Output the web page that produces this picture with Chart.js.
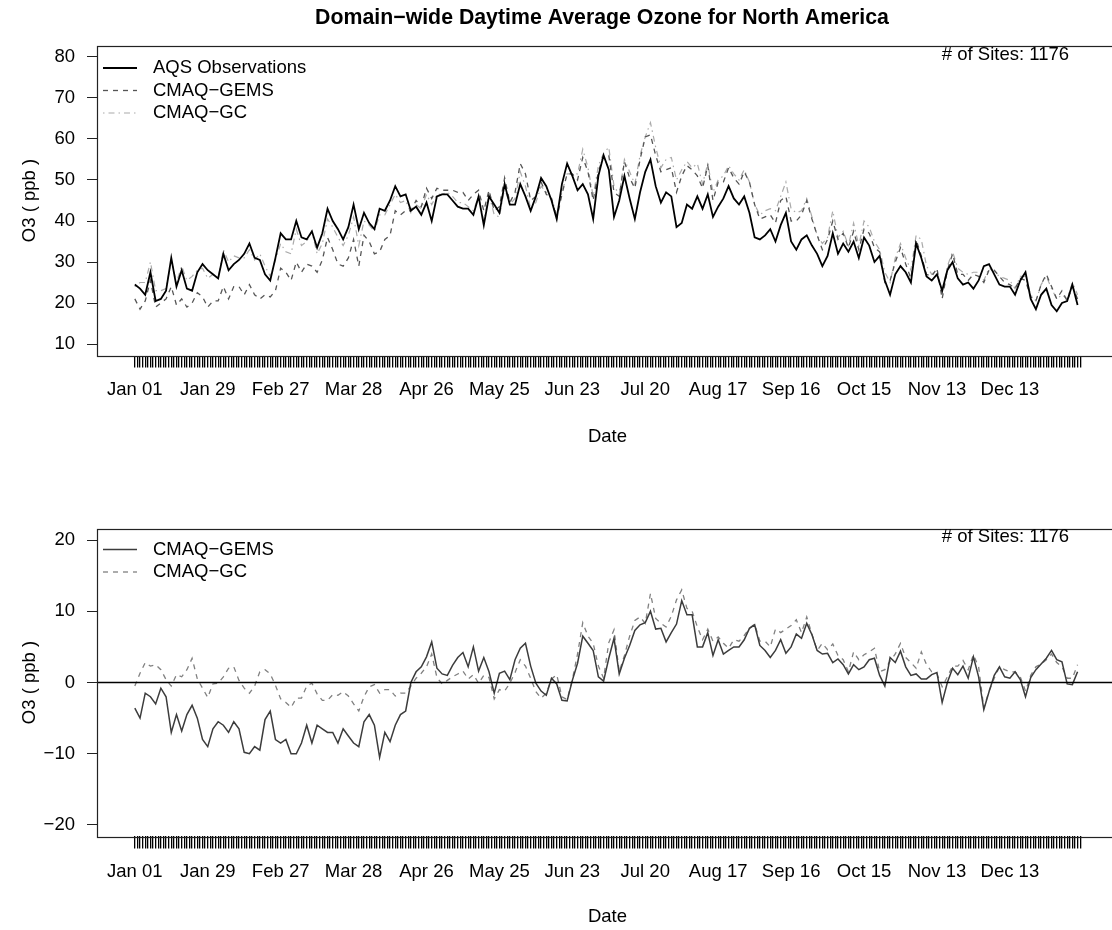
<!DOCTYPE html>
<html>
<head>
<meta charset="utf-8">
<title>Domain-wide Daytime Average Ozone</title>
<script src="https://cdn.jsdelivr.net/npm/chart.js@4.4.0/dist/chart.umd.min.js"></script>
<style>
  html, body { margin: 0; padding: 0; background: #fff; overflow: hidden; }
  #wrap { position: relative; width: 1112px; height: 930px; overflow: hidden; }
  canvas { position: absolute; left: 0; }
  #topChart { top: 0; }
  #biasChart { top: 465px; }
</style>
</head>
<body>
<div id="wrap">
  <canvas id="topChart" width="1130" height="465"></canvas>
  <canvas id="biasChart" width="1130" height="465"></canvas>
</div>
<script>
// Fuente parecida a Helvetica de R
const FONT = '"Liberation Sans", Arial, Helvetica, sans-serif';

// Etiquetas del eje X (una cada 28 días) y ticks del eje Y
const tickLabels = ['Jan 01', 'Jan 29', 'Feb 27', 'Mar 28', 'Apr 26', 'May 25', 'Jun 23',
                    'Jul 20', 'Aug 17', 'Sep 16', 'Oct 15', 'Nov 13', 'Dec 13'];
const tickEvery = 28;
const lastDay = 363;
const dayStep = 2; // un valor cada 2 días
const yTicksTop = [10, 20, 30, 40, 50, 60, 70, 80];
const yTicksBias = [-20, -10, 0, 10, 20];

const seriesTop = ['AQS Observations', 'CMAQ−GEMS', 'CMAQ−GC'];
const seriesBias = ['CMAQ−GEMS', 'CMAQ−GC'];

// O3 observado (ppb)
const aqsObs = [
  24.5, 23.5, 22, 27.5, 20.5, 21, 23, 31, 24, 28,
  23.5, 23, 27.5, 29.5, 28, 27, 26, 32, 28, 29.5,
  30.5, 32, 34.5, 31, 30.5, 27, 25.5, 31, 37, 35.5,
  35.5, 40, 36, 35.5, 37.5, 33.5, 37, 43, 40, 38,
  35.5, 38.5, 44, 38, 42, 39.5, 38, 43, 42.5, 45,
  48.5, 46, 46.5, 42.5, 43.5, 41.5, 44.5, 40, 46, 46.5,
  46.5, 45, 43.5, 43, 43, 41.5, 46, 39, 46, 44,
  42, 49, 44, 44, 49, 46, 42.5, 46, 50.5, 48.5,
  45, 40.5, 49, 54, 51, 47.5, 49, 46.5, 40.5, 51,
  56, 52.5, 41, 45, 51, 45.5, 40.5, 47, 52, 55,
  48.5, 44.5, 47, 46, 38.5, 39.5, 44, 43, 46, 43,
  46.5, 41, 43.5, 45.5, 48.5, 45.5, 44, 46, 42, 36,
  35.5, 36.5, 38, 35, 39, 42, 35, 33, 35.5, 36.5,
  34, 32, 29, 31.5, 37, 32, 34.5, 32.5, 35, 31,
  36, 34, 30, 31.5, 25.5, 22, 27, 29, 27.5, 25,
  34.5, 31, 26.5, 25.5, 27, 23, 28, 30, 26, 24.5,
  25, 23.5, 25.5, 29, 29.5, 27, 24.5, 24, 24, 22,
  25.5, 27.5, 21, 18.5, 22, 23.5, 19.5, 18, 20, 20.5,
  24.5, 19.5
];

// CMAQ-GEMS (ppb)
const gemsTop = [
  21, 18.5, 20.5, 25.5, 19, 20, 21, 24, 19.5, 21,
  19, 20, 22.5, 21.5, 19, 20.5, 20.5, 24, 21, 24,
  24, 22, 24.5, 22, 21, 22, 21.5, 23, 28.5, 27.5,
  25.5, 30, 27.5, 29.5, 29, 27.5, 30.5, 36, 33, 29.5,
  29, 31, 35.5, 29, 36.5, 35, 32, 32.5, 35.5, 36.5,
  42.5, 41.5, 42.5, 42.5, 45, 43.5, 48, 45.5, 48, 47.5,
  47.5, 47.5, 47, 47, 45, 46.5, 47.5, 42.5, 47.5, 42.5,
  43.5, 50.5, 44.5, 47, 54, 51.5, 45, 46, 49.5, 46.5,
  45.5, 40.5, 46.5, 51.5, 51.5, 50, 55.5, 52, 45, 52,
  56, 56, 47, 46, 54.5, 50.5, 48, 55, 60.5, 61,
  56, 52, 52.5, 53, 47, 51, 53.5, 52.5, 51, 48,
  53.5, 45, 49.5, 49.5, 53, 50.5, 49, 52, 49.5, 44,
  40.5, 41, 41.5, 39.5, 45, 46, 40, 40, 41.5, 45,
  40.5, 36.5, 33, 35.5, 40, 35.5, 37, 33.5, 37.5, 33,
  38, 37, 33.5, 32.5, 25, 25.5, 30, 33.5, 29.5, 26,
  35.5, 31.5, 27, 26.5, 28.5, 21, 28, 32, 27, 27,
  25.5, 27, 26.5, 25, 28, 28, 26.5, 25, 24.5, 23.5,
  26, 25.5, 21.5, 20.5, 24.5, 27, 24, 21, 23, 20.5,
  24, 21
];

// CMAQ-GC (ppb)
const gcTop = [
  24, 25, 25, 30, 23, 23, 23.5, 30.5, 25, 29,
  25.5, 26.5, 28, 28.5, 26, 27, 26, 33, 30, 31.5,
  31, 31, 33, 30.5, 32, 29, 26.5, 30.5, 34.5, 32.5,
  32, 38, 34, 35, 37.5, 32, 34.5, 40.5, 38.5, 36,
  34, 36.5, 41, 34, 40, 39, 37.5, 41.5, 41.5, 44,
  46.5, 44.5, 45, 42, 44, 43, 46.5, 44, 46.5, 46.5,
  47, 46, 44.5, 44.5, 43.5, 42.5, 46, 40, 46.5, 41.5,
  41, 48, 44, 45.5, 52, 48.5, 43, 44.5, 48.5, 47,
  45.5, 41.5, 47, 51.5, 51.5, 51.5, 57.5, 53, 46, 53.5,
  56.5, 58, 48.5, 46.5, 55, 52, 49, 56, 60.5, 64,
  58, 53, 55, 55.5, 50, 52.5, 54.5, 53, 54, 49,
  54, 47, 50, 51, 53.5, 51.5, 50, 52.5, 49.5, 44,
  41.5, 42.5, 43, 42.5, 46, 49.5, 43, 42, 42.5, 45.5,
  41, 36.5, 34.5, 36, 42.5, 36, 37.5, 34, 39.5, 34,
  40, 38.5, 35, 33, 27.5, 25, 31, 34.5, 31, 28,
  36.5, 35.5, 29, 27, 28, 22.5, 29, 32.5, 28.5, 27.5,
  27, 27.5, 27.5, 25.5, 28.5, 27.5, 26.5, 26, 25.5, 23.5,
  26.5, 26.5, 22, 20.5, 24.5, 26.5, 23.5, 21, 22, 21,
  25, 22
];

// Sesgo modelo - observación (ppb)
const gemsBias = [
  -3.6, -5, -1.5, -2, -3, -0.8, -2, -7, -4.5, -6.8,
  -4.5, -3.2, -5, -8, -9, -6.5, -5.5, -6, -7, -5.5,
  -6.5, -9.8, -10, -9, -9.5, -5.2, -4, -8, -8.5, -8,
  -10, -10, -8.5, -6, -8.5, -6, -6.5, -7, -7, -8.5,
  -6.5, -7.5, -8.5, -9, -5.5, -4.5, -6, -10.5, -7, -8.3,
  -6, -4.5, -4, 0, 1.5, 2.2, 3.6, 5.7, 2, 1.2,
  1, 2.4, 3.5, 4.2, 2.2, 5, 1.6, 3.5, 1.5, -1.5,
  1.3, 1.6, 0.4, 3.2, 4.8, 5.5, 2.3, -0.1, -1.2, -1.8,
  0.6, -0.2, -2.5, -2.6, 0.3, 2.7, 6.5, 5.5, 4.5, 0.8,
  0.2, 3.4, 6.2, 1.2, 3.4, 5.2, 7.3, 8.1, 8.4, 10,
  7.5, 7.6, 5.7, 7, 8.2, 11.5, 9.5, 9.5, 5, 5,
  7, 3.8, 6, 4, 4.5, 5, 5, 6, 7.6, 8.1,
  5.2, 4.5, 3.5, 4.5, 6, 4.1, 5, 6.8, 6.2, 8.3,
  6.7, 4.5, 4, 4.1, 2.8, 3.3, 2.5, 1.2, 2.5, 1.8,
  2.2, 3.2, 3.4, 1, -0.5, 3.5, 2.8, 4.4, 2.2, 1,
  1.2, 0.5, 0.5, 1.1, 1.4, -2.8, 0, 2, 1.1, 2.3,
  0.6, 3.6, 0.8, -3.8, -1.3, 1, 2.2, 0.8, 0.6, 1.5,
  0.4, -2, 0.7, 1.8, 2.6, 3.4, 4.5, 3.2, 2.9, -0.2,
  -0.3, 1.5
];

const gcBias = [
  -0.5, 1.3, 2.8, 2.3, 2.5, 1.8, 0.4, -0.5, 1.1, 0.8,
  1.8, 3.4, 0.5, -0.8, -2.1, -0.2, -0.1, 0.8, 2, 2.2,
  0.3, -0.8, -1.5, -0.5, 1.5, 1.8, 1.2, -0.4, -2.3, -2.8,
  -3.5, -2.2, -2.2, -0.5, -0.1, -1.6, -2.5, -2.5, -1.7, -1.8,
  -1.3, -1.9, -3, -4, -2, -0.6, -0.3, -1.5, -1, -1,
  -1.9, -1.5, -1.5, -0.5, 0.6, 1.3, 2.2, 4, 0.7, -0.2,
  0.3, 0.8, 1.2, 1.6, 0.5, 1.1, -0.1, 1, 0.7, -2.3,
  -1, -1.2, -0.1, 1.4, 3.2, 2.3, 0.6, -1.3, -2.2, -1.5,
  0.5, 1.1, -2, -2.4, 0.4, 4, 8.4, 6.5, 5.5, 2.3,
  0.6, 5.6, 7.4, 1.5, 3.8, 6.5, 8.7, 9.2, 8.3, 12.5,
  9, 8.3, 7.8, 9.3, 11.6, 13, 10.4, 10, 7.8, 6,
  7.5, 5.8, 6.4, 5.5, 4.8, 6, 5.8, 6.6, 7.6, 8.2,
  5.8, 5.8, 5, 7.5, 7, 7.5, 8, 8.8, 7, 9.2,
  6.8, 4.5, 5.5, 4.6, 5.4, 3.8, 3.2, 1.5, 4.3, 3.2,
  3.9, 4.3, 4.8, 1.5, 1.8, 3, 4, 5.5, 3.5, 2.8,
  2, 4.3, 2.5, 1.5, 1.2, -0.6, 0.8, 2.3, 2.3, 3.1,
  1.8, 3.9, 2.2, -3.6, -1.2, 0.6, 2.2, 1.8, 1.5, 1.5,
  0.8, -1.2, 1, 2.2, 2.6, 3.2, 4, 2.8, 2.2, 0.6,
  0.6, 2.5
];

// Convierte la serie a puntos {x: día, y: valor}
function toPoints(values) {
  return values.map((v, k) => ({ x: k * dayStep, y: v }));
}

// Plugin: caja estilo R, título, leyenda, textos de ejes
const rFrame = {
  id: 'rFrame',
  afterDatasetsDraw(chart, args, opts) {
    const ctx = chart.ctx;
    const a = chart.chartArea;
    ctx.save();
    if (opts.zeroLine) {
      const y0 = Math.round(chart.scales.y.getPixelForValue(0)) + 0.5;
      ctx.strokeStyle = '#000';
      ctx.lineWidth = 1.4;
      ctx.beginPath();
      ctx.moveTo(a.left, y0);
      ctx.lineTo(a.right, y0);
      ctx.stroke();
    }
    ctx.restore();
  },
  afterDraw(chart, args, opts) {
    const ctx = chart.ctx;
    const a = chart.chartArea;
    ctx.save();
    // caja
    ctx.strokeStyle = '#222';
    ctx.lineWidth = 1.2;
    ctx.setLineDash([]);
    ctx.strokeRect(Math.round(a.left) + 0.5, Math.round(a.top) + 0.5,
                   Math.round(a.right - a.left), Math.round(a.bottom - a.top));

    ctx.fillStyle = '#000';
    ctx.textBaseline = 'middle';
    const midX = (a.left + a.right) / 2;

    if (opts.title) {
      ctx.font = 'bold 21.3px ' + FONT;
      ctx.textAlign = 'center';
      ctx.fillText(opts.title, opts.titleX, opts.titleY);
    }

    ctx.font = '18.5px ' + FONT;
    ctx.textAlign = 'right';
    ctx.fillText(opts.sites, opts.sitesX, opts.sitesY);

    // leyenda
    chart.data.datasets.forEach((ds, k) => {
      const y = opts.legendY + k * 22.5;
      ctx.strokeStyle = ds.borderColor;
      ctx.lineWidth = ds.borderWidth;
      ctx.setLineDash(ds.borderDash || []);
      ctx.beginPath();
      ctx.moveTo(103, y);
      ctx.lineTo(137, y);
      ctx.stroke();
      ctx.setLineDash([]);
      ctx.textAlign = 'left';
      ctx.fillText(ds.label, 153, y);
    });

    // títulos de ejes
    ctx.textAlign = 'center';
    ctx.fillText('Date', midX, opts.dateY);
    ctx.translate(30, (a.top + a.bottom) / 2);
    ctx.rotate(-Math.PI / 2);
    ctx.fillText('O3 ( ppb )', 0, 0);
    ctx.restore();
  }
};

function xScale(axisHeight, labelPad) {
  return {
    type: 'linear',
    bounds: 'data',
    min: -lastDay * 0.04,
    max: lastDay * 1.04,
    afterBuildTicks: s => {
      const t = [];
      for (let d = 0; d <= lastDay; d++) t.push({ value: d });
      s.ticks = t;
    },
    afterFit: s => { s.height = axisHeight; },
    ticks: {
      autoSkip: false,
      maxRotation: 0,
      minRotation: 0,
      padding: labelPad,
      color: '#000',
      font: { family: FONT, size: 18.5 },
      callback: v => (v % tickEvery === 0 ? tickLabels[v / tickEvery] : '')
    },
    grid: { drawOnChartArea: false, drawTicks: true, tickLength: 12, color: '#000', lineWidth: 1.3 },
    border: { display: false }
  };
}

function yScale(ticksList) {
  const lo = ticksList[0], hi = ticksList[ticksList.length - 1];
  const pad = (hi - lo) * 0.04;
  return {
    type: 'linear',
    bounds: 'data',
    min: lo - pad,
    max: hi + pad,
    afterBuildTicks: s => { s.ticks = ticksList.map(v => ({ value: v })); },
    afterFit: s => { s.width = 97; },
    ticks: {
      padding: 12,
      color: '#000',
      font: { family: FONT, size: 18.5 },
      callback: v => String(v).replace('-', '\u2212')
    },
    grid: { drawOnChartArea: false, drawTicks: true, tickLength: 10, color: '#222', lineWidth: 1 },
    border: { display: false }
  };
}

const common = {
  responsive: false,
  animation: false,
  events: [],
  plugins: { legend: { display: false }, tooltip: { enabled: false } },
  elements: { point: { radius: 0 }, line: { tension: 0 } }
};

// Panel superior: concentraciones
new Chart(document.getElementById('topChart').getContext('2d'), {
  type: 'line',
  data: {
    datasets: [
      { label: seriesTop[0], data: toPoints(aqsObs), borderColor: '#000', borderWidth: 1.8 },
      { label: seriesTop[1], data: toPoints(gemsTop), borderColor: '#555', borderWidth: 1.3, borderDash: [5, 5] },
      { label: seriesTop[2], data: toPoints(gcTop), borderColor: '#aaa', borderWidth: 1.2, borderDash: [1.5, 4, 6, 4] }
    ]
  },
  options: {
    ...common,
    layout: { padding: { top: 45.5, right: 12, left: 0, bottom: 0 } },
    scales: { x: xScale(465 - 355.5, 11), y: yScale(yTicksTop) },
    plugins: {
      ...common.plugins,
      rFrame: {
        title: 'Domain\u2212wide Daytime Average Ozone for North America', titleX: 602, titleY: 18,
        sites: '# of Sites: 1176', sitesX: 1069, sitesY: 55,
        legendY: 68, dateY: 437
      }
    }
  },
  plugins: [rFrame]
});

// Panel inferior: sesgo
new Chart(document.getElementById('biasChart').getContext('2d'), {
  type: 'line',
  data: {
    datasets: [
      { label: seriesBias[0], data: toPoints(gemsBias), borderColor: '#3c3c3c', borderWidth: 1.5 },
      { label: seriesBias[1], data: toPoints(gcBias), borderColor: '#808080', borderWidth: 1.3, borderDash: [5, 5] }
    ]
  },
  options: {
    ...common,
    layout: { padding: { top: 63.6, right: 12, left: 0, bottom: 0 } },
    scales: { x: xScale(465 - 371.4, 12), y: yScale(yTicksBias) },
    plugins: {
      ...common.plugins,
      rFrame: {
        zeroLine: true,
        sites: '# of Sites: 1176', sitesX: 1069, sitesY: 72,
        legendY: 84.5, dateY: 452
      }
    }
  },
  plugins: [rFrame]
});
</script>
</body>
</html>
